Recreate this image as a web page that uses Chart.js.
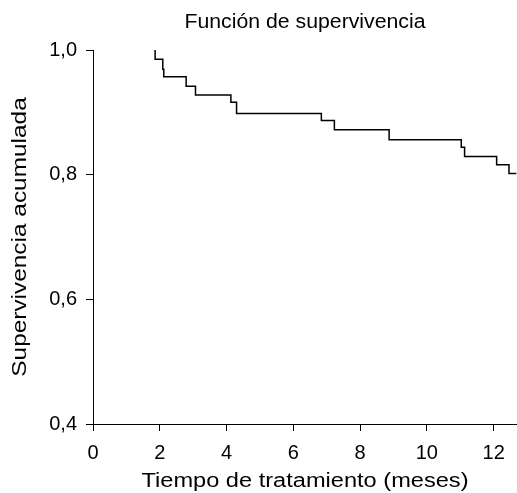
<!DOCTYPE html>
<html>
<head>
<meta charset="utf-8">
<script src="https://cdn.jsdelivr.net/npm/chart.js@4"></script>
<style>
  body { margin: 0; background: #fff; }
  #wrap { width: 517px; height: 493px; }
</style>
</head>
<body>
<div id="wrap"><canvas id="kmChart"></canvas></div>
<script>
// survival curve (months, cumulative survival)
const times = [1.86, 1.86, 2.09, 2.12, 2.79, 3.07, 4.13, 4.30, 6.84, 7.23, 8.87, 11.03, 11.13, 12.09, 12.46, 12.68];
const survival = [1.0, 0.985, 0.969, 0.957, 0.942, 0.928, 0.916, 0.898, 0.887, 0.872, 0.856, 0.844, 0.829, 0.816, 0.802, 0.802];
const xTicks = [0, 2, 4, 6, 8, 10, 12];
const yTicks = [0.4, 0.6, 0.8, 1.0];

const font = "'Liberation Sans', Arial, sans-serif";
const points = times.map((t, i) => ({ x: t, y: survival[i] }));

// the original titles are set in a wide (horizontally scaled) face,
// so stretch them along the reading direction around their centre
function stretchText(obj, method, dir, factor) {
    if (!obj || obj["_st_" + method]) return;
    const orig = obj[method];
    obj[method] = function () {
        const c = this.ctx;
        c.save();
        if (dir === "h") {
            const cx = (this.left + this.right) / 2;
            c.translate(cx, 0);
            c.scale(factor, 1);
            c.translate(-cx, 0);
        } else {
            const cy = (this.top + this.bottom) / 2;
            c.translate(0, cy);
            c.scale(1, factor);
            c.translate(0, -cy);
        }
        orig.apply(this, arguments);
        c.restore();
    };
    obj["_st_" + method] = true;
}

const stretchPlugin = {
    id: "stretch",
    beforeDraw(chart) {
        stretchText(chart.scales.x, "drawTitle", "h", 1.18);
        stretchText(chart.scales.y, "drawTitle", "v", 1.22);
        stretchText(chart.titleBlock, "draw", "h", 1.09);
    }
};

const ctx = document.getElementById("kmChart").getContext("2d");
const chart = new Chart(ctx, {
    type: "line",
    data: {
        datasets: [{
            data: points,
            stepped: true,
            borderColor: "#000",
            borderWidth: 1.5,
            pointRadius: 0,
            fill: false,
            clip: false
        }]
    },
    plugins: [stretchPlugin],
    options: {
        responsive: true,
        maintainAspectRatio: false,
        animation: false,
        layout: { padding: 0 },
        plugins: {
            legend: { display: false },
            tooltip: { enabled: false },
            title: {
                display: true,
                text: "Función de supervivencia",
                color: "#000",
                fullSize: false,
                font: { family: font, size: 19.5, weight: "normal" },
                padding: { top: 10.5, bottom: 16.1 }
            }
        },
        scales: {
            x: {
                type: "linear",
                min: 0,
                max: 12.7,
                afterBuildTicks: scale => {
                    scale.ticks = xTicks.map(v => ({ value: v }));
                },
                afterFit: scale => { scale.height = 69; },
                grid: { drawOnChartArea: false, drawTicks: true, tickLength: 7, color: "#000" },
                border: { display: true, color: "#000", width: 1 },
                ticks: {
                    color: "#000",
                    font: { family: font, size: 20 },
                    padding: 10,
                    maxRotation: 0,
                    callback: v => String(v)
                },
                title: {
                    display: true,
                    text: "Tiempo de tratamiento (meses)",
                    color: "#000",
                    font: { family: font, size: 20 },
                    padding: { top: 0, bottom: 0 }
                }
            },
            y: {
                type: "linear",
                min: 0.4,
                max: 1.0,
                afterBuildTicks: scale => {
                    scale.ticks = yTicks.map(v => ({ value: v }));
                },
                afterFit: scale => { scale.width = 93; },
                grid: { drawOnChartArea: false, drawTicks: true, tickLength: 7, color: "#000" },
                border: { display: true, color: "#000", width: 1 },
                ticks: {
                    color: "#000",
                    font: { family: font, size: 20 },
                    padding: 9,
                    callback: v => v.toFixed(1).replace(".", ",")
                },
                title: {
                    display: true,
                    text: "Supervivencia acumulada",
                    color: "#000",
                    font: { family: font, size: 20 },
                    padding: { top: 8, bottom: 0 }
                }
            }
        }
    }
});
</script>
</body>
</html>
